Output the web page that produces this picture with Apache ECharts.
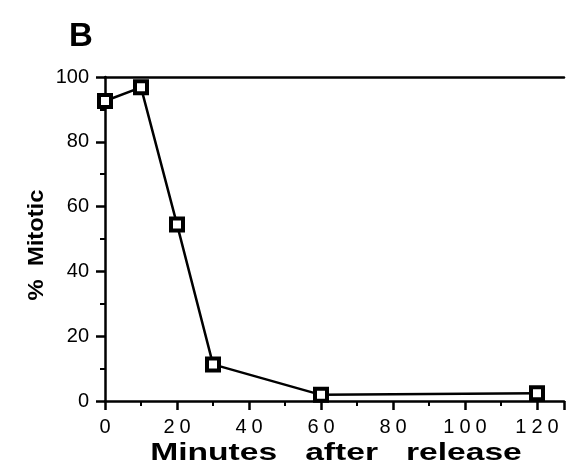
<!DOCTYPE html>
<html><head><meta charset="utf-8">
<script src="https://cdn.jsdelivr.net/npm/echarts@6/dist/echarts.min.js"></script>
<style>html,body{margin:0;padding:0;background:#fff}#c{width:567px;height:472px}</style>
</head><body><div id="c"></div>
<script>
const minutes = [0, 10, 20, 30, 60, 120];
const mitotic = [92.6, 96.8, 54.5, 11.3, 1.9, 2.4];
const xTicks = [0, 20, 40, 60, 80, 100, 120];
const yTicks = [0, 20, 40, 60, 80, 100];
const panelLabel = 'B';
const xTitle = 'Minutes   after   release';
const yTitle = '%  Mitotic';

const font = 'Liberation Sans';
const chart = echarts.init(document.getElementById('c'), null, {renderer: 'canvas'});
chart.setOption({
  animation: false,
  backgroundColor: '#fff',
  title: {text: panelLabel, left: 64, top: 15,
    textStyle: {fontFamily: font, fontSize: 33, fontWeight: 'bold', color: '#000'}},
  grid: {left: 105, right: 2, top: 77, bottom: 71},
  xAxis: [{
    type: 'value', min: 0, max: 127.5, interval: 20, position: 'bottom',
    axisLine: {show: true, lineStyle: {color: '#000', width: 2.5}},
    axisTick: {show: true, length: 9, inside: false, lineStyle: {color: '#000', width: 2.5}},
    minorTick: {show: true, splitNumber: 2, length: 5, lineStyle: {color: '#000', width: 2}},
    splitLine: {show: false},
    axisLabel: {margin: 16, fontFamily: font, fontSize: 20, color: '#000',
      formatter: v => xTicks.includes(v) ? String(v).split('').join('\u2005') : ''}
  }, {
    type: 'value', min: 0, max: 127.5, position: 'top',
    axisLine: {show: true, lineStyle: {color: '#000', width: 2.5}},
    axisTick: {show: false}, axisLabel: {show: false}, splitLine: {show: false}
  }],
  yAxis: {
    type: 'value', min: 0, max: 100, interval: 20,
    axisLine: {show: true, lineStyle: {color: '#000', width: 2.5}},
    axisTick: {show: true, length: 9, lineStyle: {color: '#000', width: 2.5}},
    minorTick: {show: true, splitNumber: 2, length: 5, lineStyle: {color: '#000', width: 2}},
    splitLine: {show: false},
    axisLabel: {margin: 16, fontFamily: font, fontSize: 20, color: '#000',
      formatter: v => yTicks.includes(v) ? String(v) : ''}
  },
  graphic: [{
    type: 'text', x: 336, y: 453, scaleX: 1.4, silent: true,
    style: {text: xTitle, fontFamily: font, fontSize: 24, fontWeight: 'bold', fill: '#000',
      align: 'center', verticalAlign: 'middle', textAlign: 'center', textVerticalAlign: 'middle'}
  }, {
    type: 'text', x: 37, y: 245, rotation: Math.PI / 2, scaleX: 1.08, silent: true,
    style: {text: yTitle, fontFamily: font, fontSize: 22, fontWeight: 'bold', fill: '#000',
      align: 'center', verticalAlign: 'middle', textAlign: 'center', textVerticalAlign: 'middle'}
  }],
  series: [{
    type: 'line', xAxisIndex: 0,
    data: minutes.map((m, i) => [m, mitotic[i]]),
    symbol: 'rect', symbolSize: 12,
    lineStyle: {color: '#000', width: 2.5},
    itemStyle: {color: '#fff', borderColor: '#000', borderWidth: 4}
  }]
});
</script></body></html>
